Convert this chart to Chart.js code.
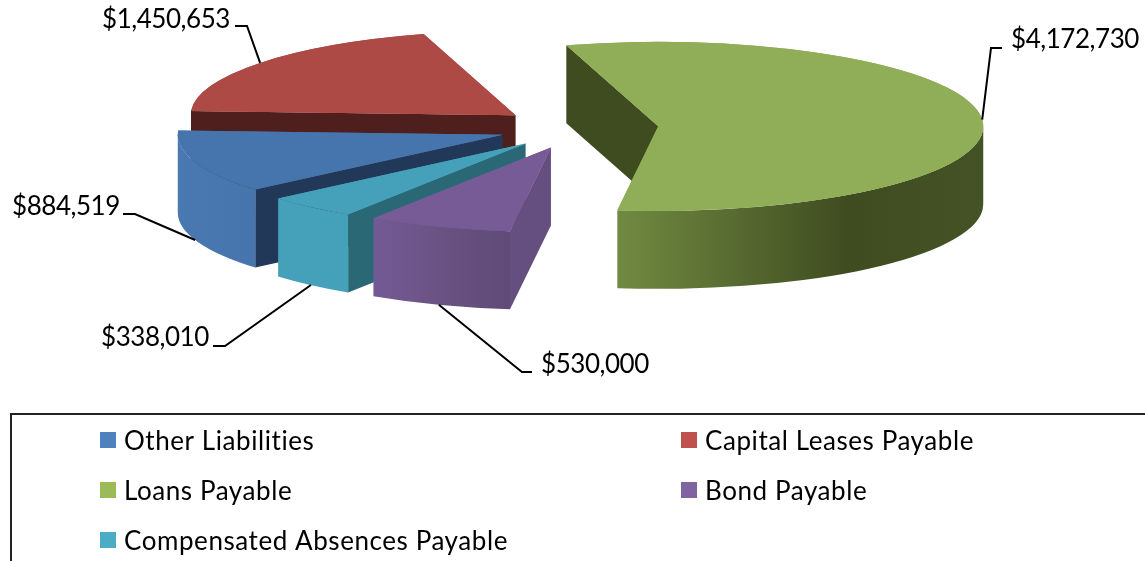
<!DOCTYPE html>
<html>
<head>
<meta charset="utf-8">
<title>Liabilities</title>
<script src="https://cdn.jsdelivr.net/npm/chart.js@4"></script>
<style>
  html, body { margin: 0; padding: 0; background: #fff; overflow: hidden; }
  #wrap { width: 1145px; height: 561px; }
</style>
</head>
<body>
<div id="wrap"><canvas id="pieCanvas" width="1145" height="561"></canvas></div>
<script>
// data, same order as the legend reads in the source workbook
const categories = ['Other Liabilities', 'Capital Leases Payable', 'Loans Payable', 'Bond Payable', 'Compensated Absences Payable'];
const amounts    = [884519, 1450653, 4172730, 530000, 338010];

// colours
const topColors    = ['#4674ad', '#ae4a45', '#90ae57', '#775b96', '#45a0b9'];
const cutColors    = ['#213858', '#4f1f1d', '#3f4c20', '#654e80', '#2a6875'];
const rimFrom      = ['#4a78b0', '#4f1f1d', '#718a42', '#745a94', '#45a0b9']; // left end of curved wall
const rimMid       = ['#4776af', '#4f1f1d', '#3f4c20', '#67507f', '#45a0b9'];
const rimTo        = ['#4674ad', '#4f1f1d', '#445325', '#5f4a78', '#45a0b9']; // right end
const legendColors = ['#4f81bd', '#c0504d', '#9bbb59', '#8064a2', '#4bacc6'];

// 3d look
const TILT = 0.26;      // y squash of the pie top
const DEPTH = 78;       // wall height
const SLIDE = 80;       // explosion distance
const LABEL_FONT = '26px Lato, sans-serif';

// label layout: text left, text middle, elbow x, elbow y, stub end x
const labelLeft = [12, 102, 1011, 541, 101];
const labelMid  = [207, 20, 40, 365, 338];
const elbowX    = [135, 247, 991, 522, 225];
const elbowY    = [214, 26, 48, 372, 346];
const stubX     = [123, 235, 1002, 532, 213];

// legend layout, row by row
const legendSwatchX = [100, 681, 100, 681, 100];
const legendRowY    = [440, 440, 490, 490, 540];

const money = v => '$' + v.toLocaleString('en-US');

function sliceOrigin(arc) {
  const mid = (arc.startAngle + arc.endAngle) / 2;
  return {
    x: arc.x + Math.cos(mid) * SLIDE,
    y: arc.y + Math.sin(mid) * SLIDE * TILT,
    mid
  };
}

function drawSlice(ctx, arc, i) {
  const o = sliceOrigin(arc);
  const R = arc.outerRadius, ry = R * TILT;
  const a0 = arc.startAngle, a1 = arc.endAngle;

  // cut wall on the start edge
  const sx = o.x + Math.cos(a0) * R, sy = o.y + Math.sin(a0) * ry;
  ctx.fillStyle = cutColors[i];
  ctx.beginPath();
  ctx.moveTo(o.x, o.y);
  ctx.lineTo(sx, sy);
  ctx.lineTo(sx, sy + DEPTH);
  ctx.lineTo(o.x, o.y + DEPTH);
  ctx.closePath();
  ctx.fill();

  // curved wall, only the part facing us
  const turn = Math.PI * 2;
  const k = Math.floor(a0 / turn);
  const s0 = a0 - k * turn, s1 = a1 - k * turn;
  const from = Math.max(s0, 0), to = Math.min(s1, Math.PI);
  const ranges = [[from, to], [Math.max(s0, turn), Math.min(s1, turn + Math.PI)]];
  ranges.forEach(([f, t]) => {
    if (t <= f) return;
    const x0 = o.x + Math.cos(t) * R, x1 = o.x + Math.cos(f) * R;
    const g = ctx.createLinearGradient(x0, 0, x1, 0);
    g.addColorStop(0, rimFrom[i]);
    g.addColorStop(0.63, rimMid[i]);
    g.addColorStop(1, rimTo[i]);
    ctx.fillStyle = g;
    ctx.beginPath();
    ctx.ellipse(o.x, o.y, R, ry, 0, f, t, false);
    ctx.ellipse(o.x, o.y + DEPTH, R, ry, 0, t, f, true);
    ctx.closePath();
    ctx.fill();
  });

  // top, the library's own arc under a squashed transform
  // drawn twice so the antialiased edge leaves no light seam on the wall
  ctx.save();
  ctx.translate(o.x, o.y);
  ctx.scale(1, TILT);
  ctx.translate(-arc.x, -arc.y);
  arc.draw(ctx);
  arc.draw(ctx);
  ctx.restore();
}

const pie3d = {
  id: 'pie3d',
  beforeDatasetsDraw(chart) {
    const ctx = chart.ctx;
    const arcs = chart.getDatasetMeta(0).data;
    // back to front
    const order = arcs.map((a, i) => i).sort((p, q) =>
      Math.sin(sliceOrigin(arcs[p]).mid) - Math.sin(sliceOrigin(arcs[q]).mid));
    order.forEach(i => drawSlice(ctx, arcs[i], i));
    return false;
  },
  afterDraw(chart) {
    const ctx = chart.ctx;
    const arcs = chart.getDatasetMeta(0).data;
    ctx.save();

    // leader lines and value labels
    ctx.strokeStyle = '#000';
    ctx.lineWidth = 2;
    ctx.fillStyle = '#000';
    ctx.font = LABEL_FONT;
    ctx.textBaseline = 'middle';
    ctx.letterSpacing = '-0.45px';
    arcs.forEach((arc, i) => {
      const o = sliceOrigin(arc);
      const sn = Math.sin(o.mid);
      const ax = o.x + Math.cos(o.mid) * arc.outerRadius;
      const ay = o.y + sn * arc.outerRadius * TILT + (sn > 0.2 ? DEPTH : 0);
      ctx.beginPath();
      ctx.moveTo(ax, ay);
      ctx.lineTo(elbowX[i], elbowY[i]);
      ctx.lineTo(stubX[i], elbowY[i]);
      ctx.stroke();
      ctx.fillText(money(amounts[i]), labelLeft[i], labelMid[i]);
    });

    // legend box, runs off the bottom and right like the source
    ctx.beginPath();
    ctx.moveTo(11, 561);
    ctx.lineTo(11, 414);
    ctx.lineTo(1145, 414);
    ctx.strokeStyle = '#222';
    ctx.stroke();

    ctx.letterSpacing = '0.57px';
    categories.forEach((name, i) => {
      ctx.fillStyle = legendColors[i];
      ctx.fillRect(legendSwatchX[i], legendRowY[i] - 8, 16, 16);
      ctx.fillStyle = '#000';
      ctx.fillText(name, legendSwatchX[i] + 24, legendRowY[i] + 2);
    });
    ctx.restore();
  }
};

new Chart(document.getElementById('pieCanvas'), {
  type: 'pie',
  data: {
    labels: categories,
    datasets: [{
      data: amounts,
      backgroundColor: topColors,
      borderWidth: 0
    }]
  },
  options: {
    responsive: false,
    animation: false,
    rotation: 229.6,
    radius: 325,
    layout: { padding: { left: 12, bottom: 305 } },
    plugins: {
      legend: { display: false },
      tooltip: { enabled: false }
    }
  },
  plugins: [pie3d]
});
</script>
</body>
</html>
